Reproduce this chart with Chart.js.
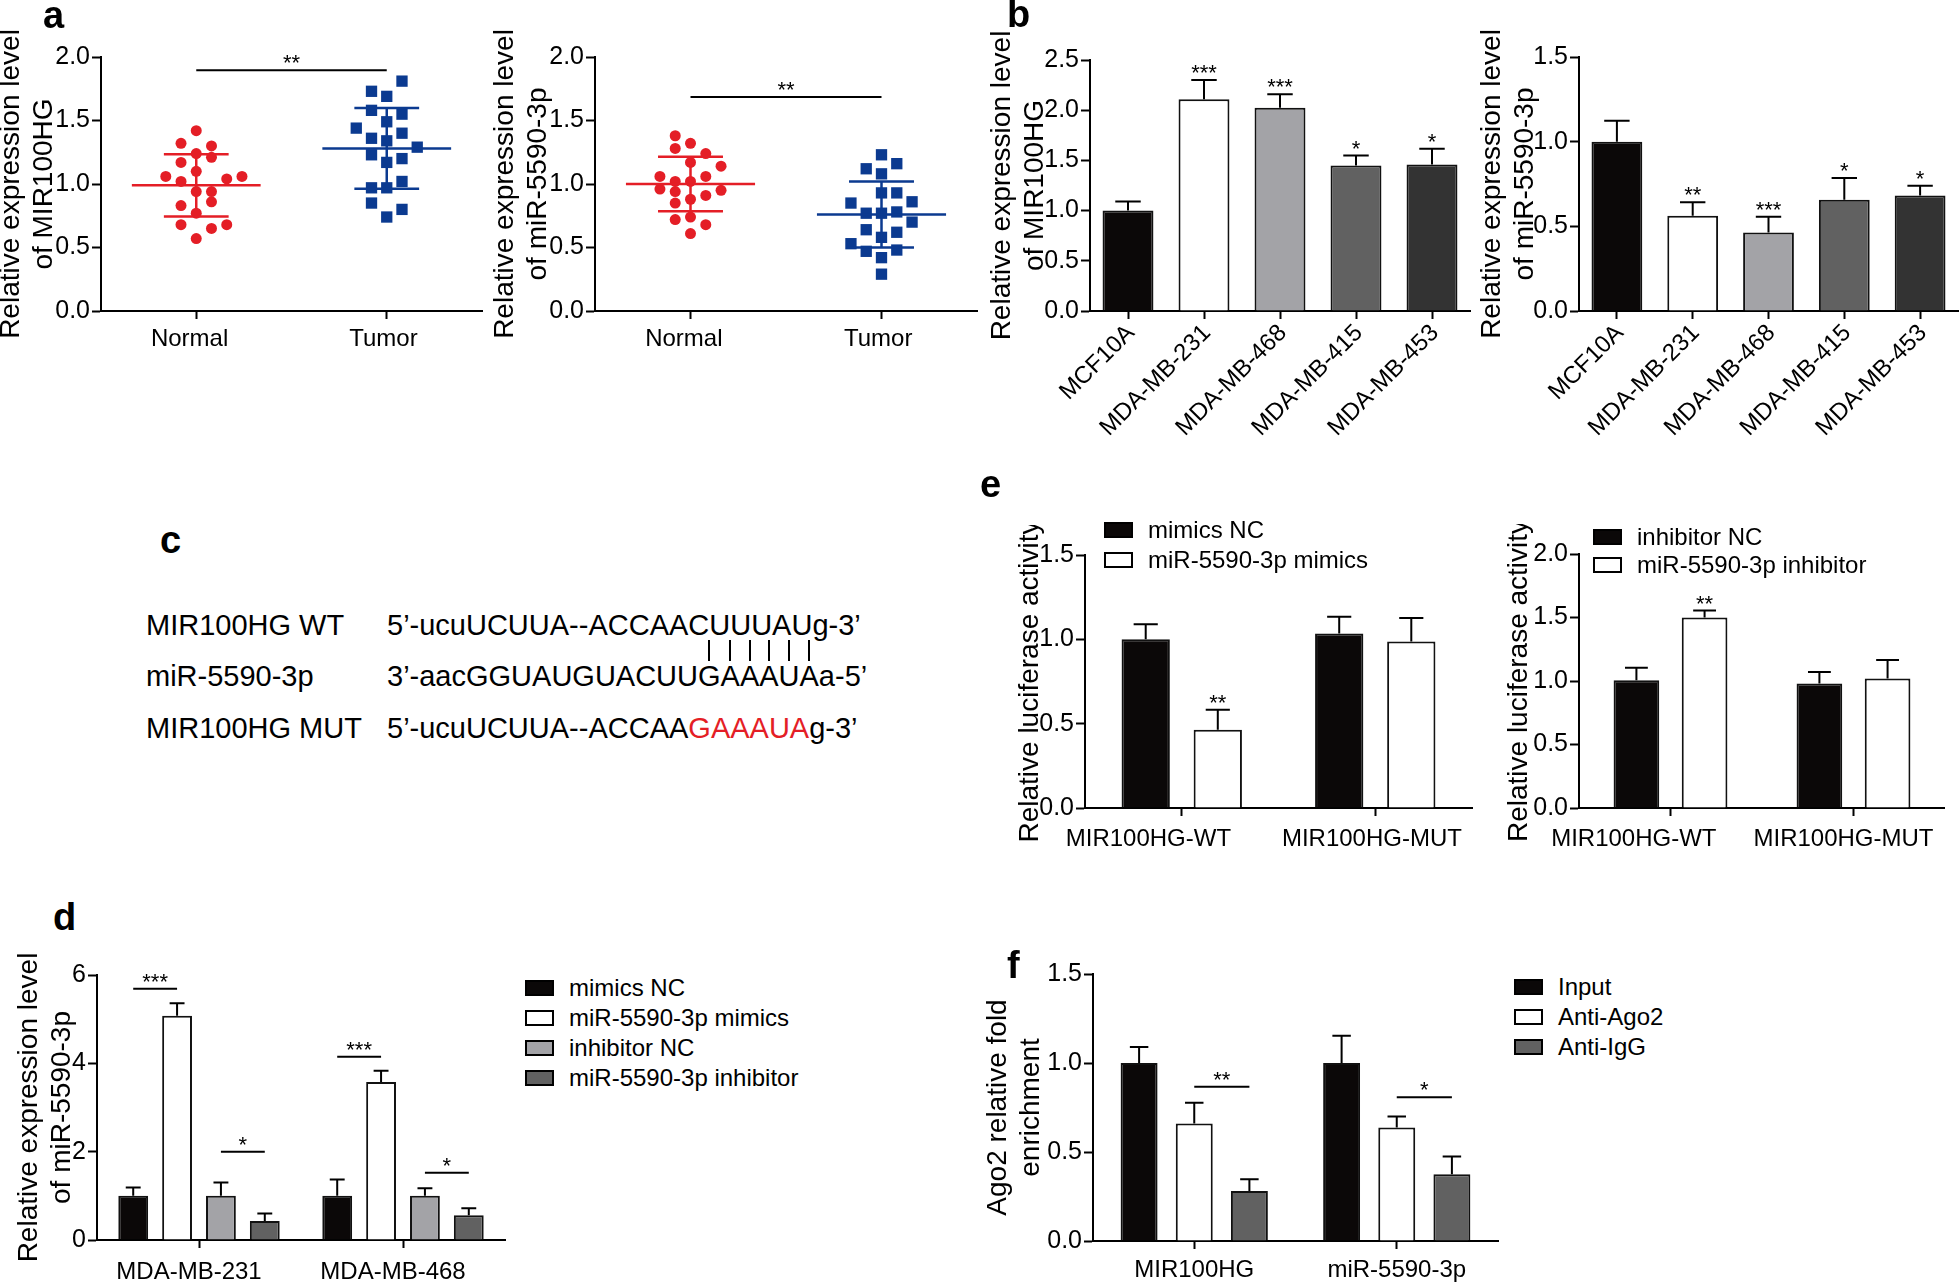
<!DOCTYPE html>
<html>
<head>
<meta charset="utf-8">
<script src="https://cdn.jsdelivr.net/npm/chart.js@4.4.1/dist/chart.umd.min.js"></script>
<style>
  body { margin: 0; background: #fff; }
  #fig { position: relative; width: 1959px; height: 1286px; overflow: hidden;
         font-family: 'Liberation Sans', Arial, sans-serif; color: #000; background: #fff; }
  #fig canvas { position: absolute; }
  .lab { position: absolute; font-weight: bold; font-size: 38px; line-height: 38px; }
  .leg { position: absolute; height: 30px; display: flex; align-items: center;
         font-size: 24px; white-space: nowrap; }
  .sw { display: inline-block; width: 29px; height: 16px; border: 2px solid #000;
        box-sizing: border-box; margin-right: 15px; }
  .seq { position: absolute; font-size: 29px; line-height: 29px; white-space: nowrap; }
  .seq .red { color: #e41e26; }
  .pipes { color: transparent; }
  .pipes span { position: relative; }
  .pipes i { position: absolute; left: 50%; top: 5px; width: 2px; height: 21px;
             margin-left: -1px; background: #000; }
</style>
</head>
<body>
<div id="fig"></div>
<script>
// ---------- data ----------
const groupsA = ['Normal', 'Tumor'];

// a, left: MIR100HG
const a1Normal = [1.42, 1.32, 1.30, 1.24, 1.21, 1.17, 1.10, 1.06, 1.06, 1.04, 1.02, 0.94, 0.94, 0.86, 0.83, 0.77, 0.68, 0.68, 0.65, 0.57];
const a1NormalCol = [0, -1, 1, 0, 1, -1, 0, -2, 3, 2, -1, 0, 1, 1, -1, 0, -1, 2, 1, 0];
const a1Tumor = [1.81, 1.73, 1.69, 1.58, 1.55, 1.49, 1.44, 1.40, 1.36, 1.34, 1.29, 1.23, 1.20, 1.17, 1.02, 0.97, 0.97, 0.85, 0.80, 0.74];
const a1TumorCol = [1, -1, 0, -1, 1, 0, -2, 1, -1, 0, 2, -1, 1, 0, 1, -1, 0, -1, 1, 0];
const a1Mean = [0.99, 1.28];
const a1Sd = [0.245, 0.318];
const a1SigY = 1.895;

// a, right: miR-5590-3p
const a2Normal = [1.38, 1.32, 1.28, 1.24, 1.17, 1.14, 1.06, 1.06, 1.02, 1.02, 0.96, 0.94, 0.95, 0.91, 0.88, 0.85, 0.74, 0.72, 0.68, 0.61];
const a2NormalCol = [-1, 0, -1, 1, 0, 2, -2, 1, -1, 0, -2, -1, 2, 1, 0, -1, 0, -1, 1, 0];
const a2Tumor = [1.23, 1.16, 1.12, 1.08, 0.93, 0.93, 0.86, 0.85, 0.77, 0.77, 0.78, 0.70, 0.64, 0.62, 0.58, 0.53, 0.47, 0.48, 0.42, 0.29];
const a2TumorCol = [0, 1, -1, 0, 0, 1, 2, -2, -1, 0, 1, 2, -1, 1, 0, -2, -1, 1, 0, 0];
const a2Mean = [1.00, 0.76];
const a2Sd = [0.215, 0.26];
const a2SigY = 1.685;

// b
const cellLines = ['MCF10A', 'MDA-MB-231', 'MDA-MB-468', 'MDA-MB-415', 'MDA-MB-453'];
const b1Values = [1.00, 2.11, 2.025, 1.448, 1.46];
const b1Err = [0.09, 0.19, 0.135, 0.10, 0.155];
const b1Stars = ['', '***', '***', '*', '*'];
const b2Values = [1.00, 0.562, 0.463, 0.657, 0.682];
const b2Err = [0.124, 0.08, 0.093, 0.128, 0.058];
const b2Stars = ['', '**', '***', '*', '*'];

// e
const constructs = ['MIR100HG-WT', 'MIR100HG-MUT'];
const e1Series = ['mimics NC', 'miR-5590-3p mimics'];
const e1NC = [1.00, 1.034];
const e1NCErr = [0.089, 0.10];
const e1Mimics = [0.464, 0.987];
const e1MimicsErr = [0.118, 0.14];
const e1Stars = ['**', ''];
const e2Series = ['inhibitor NC', 'miR-5590-3p inhibitor'];
const e2NC = [1.005, 0.98];
const e2NCErr = [0.10, 0.09];
const e2Inhibitor = [1.50, 1.02];
const e2InhibitorErr = [0.055, 0.146];
const e2Stars = ['**', ''];

// d
const dCells = ['MDA-MB-231', 'MDA-MB-468'];
const dSeries = ['mimics NC', 'miR-5590-3p mimics', 'inhibitor NC', 'miR-5590-3p inhibitor'];
const dMimicsNC = [1.00, 1.00];
const dMimicsNCErr = [0.19, 0.37];
const dMimics = [5.08, 3.58];
const dMimicsErr = [0.28, 0.25];
const dInhNC = [1.00, 1.00];
const dInhNCErr = [0.30, 0.17];
const dInh = [0.43, 0.56];
const dInhErr = [0.17, 0.16];
const dMimicsSigY = [5.69, 4.15];
const dInhSigY = [2.0, 1.52];
const dMimicsSig = ['***', '***'];
const dInhSig = ['*', '*'];

// f
const fTargets = ['MIR100HG', 'miR-5590-3p'];
const fSeries = ['Input', 'Anti-Ago2', 'Anti-IgG'];
const fInput = [1.00, 1.00];
const fInputErr = [0.09, 0.153];
const fAgo2 = [0.66, 0.638];
const fAgo2Err = [0.116, 0.062];
const fIgG = [0.281, 0.375];
const fIgGErr = [0.066, 0.10];
const fSigY = [0.866, 0.808];
const fSig = ['**', '*'];

// ---------- look ----------
const FONT = "'Liberation Sans', Arial, sans-serif";
const RED = '#e41e26';
const BLUE = '#0b3a90';
const BLACK = '#0b0808';
const WHITE = '#ffffff';
const LGRAY = '#a3a3a7';
const MGRAY = '#616161';
const DGRAY = '#333333';
const cellColors = [BLACK, WHITE, LGRAY, MGRAY, DGRAY];
const dColors = [BLACK, WHITE, LGRAY, MGRAY];
const fColors = [BLACK, WHITE, MGRAY];
const JITTER = 0.08;
const SPACE_W = 6.67;   // width of a space at 24px

const PAD_TOP = 30, PAD_RIGHT = 10;
// chart area edges, y-axis width, x-axis height, label padding, label shifts (px)
const frames = {
  a1: { l: 101, t: 57, r: 482, b: 311, yw: 106, xh: 70, xp: 6, shift: [-6, -2] },
  a2: { l: 595, t: 57, r: 977, b: 311, yw: 106, xh: 70, xp: 6, shift: [-6, -2] },
  b1: { l: 1090, t: 60, r: 1470, b: 311, yw: 104, xh: 160, xp: 0, lo: 3 },
  b2: { l: 1579, t: 57, r: 1958, b: 311, yw: 103, xh: 160, xp: 0, lo: 3 },
  e1: { l: 1085, t: 555, r: 1472, b: 808, yw: 71, xh: 60, xp: 9, shift: [-33, -5] },
  e2: { l: 1579, t: 554, r: 1955, b: 808, yw: 76, xh: 60, xp: 9, shift: [-38, -10] },
  d:  { l: 97, t: 975, r: 505, b: 1240, yw: 84, xh: 60, xp: 10, shift: [-10, -10] },
  f:  { l: 1093, t: 974, r: 1498, b: 1241, yw: 111, xh: 55, xp: 7, shift: [0, 0] }
};

Chart.defaults.font.family = FONT;
Chart.defaults.color = '#000';

const fig = document.getElementById('fig');

function shiftLabel(s, px) {
  if (!px) return s;
  const pad = ' '.repeat(Math.round(2 * Math.abs(px) / SPACE_W));
  return px < 0 ? s + pad : pad + s;
}

// error bars, upper half only
const errorBars = {
  id: 'errorBars',
  afterDatasetsDraw(chart) {
    const ctx = chart.ctx, ys = chart.scales.y;
    chart.data.datasets.forEach((ds, di) => {
      if (!ds.errors) return;
      chart.getDatasetMeta(di).data.forEach((bar, i) => {
        const top = ys.getPixelForValue(ds.data[i] + ds.errors[i]);
        const half = bar.width * 0.25;
        ctx.save();
        ctx.strokeStyle = '#000';
        ctx.lineWidth = 2;
        ctx.beginPath();
        ctx.moveTo(bar.x, bar.y);
        ctx.lineTo(bar.x, top);
        ctx.moveTo(bar.x - half, top);
        ctx.lineTo(bar.x + half, top);
        ctx.stroke();
        ctx.restore();
      });
    });
  }
};

// significance stars (and bracket lines)
const sigMarks = {
  id: 'sigMarks',
  afterDatasetsDraw(chart) {
    const marks = chart.data.sig;
    if (!marks) return;
    const ctx = chart.ctx, ys = chart.scales.y, xs = chart.scales.x;
    const barX = (p) => chart.getDatasetMeta(p[0]).data[p[1]].x;
    marks.forEach(m => {
      if (!m.text) return;
      const y = ys.getPixelForValue(m.y);
      let x1, x2;
      if (m.bars) { x1 = barX(m.bars[0]); x2 = barX(m.bars[1]); }
      else if (m.bar) { x1 = x2 = barX(m.bar); }
      else { x1 = xs.getPixelForValue(m.x1); x2 = xs.getPixelForValue(m.x2); }
      ctx.save();
      if (m.line) {
        ctx.strokeStyle = '#000';
        ctx.lineWidth = 2;
        ctx.beginPath();
        ctx.moveTo(x1, y);
        ctx.lineTo(x2, y);
        ctx.stroke();
      }
      ctx.fillStyle = '#000';
      ctx.font = '22px ' + FONT;
      ctx.textAlign = 'center';
      ctx.textBaseline = 'alphabetic';
      ctx.fillText(m.text, (x1 + x2) / 2, y);
      ctx.restore();
    });
  }
};

// mean +/- SD lines of the dot plots
const meanSd = {
  id: 'meanSd',
  afterDatasetsDraw(chart) {
    const ctx = chart.ctx, xs = chart.scales.x, ys = chart.scales.y;
    chart.data.datasets.forEach(ds => {
      if (ds.mean === undefined) return;
      const c = ds.center, m = ds.mean, s = ds.sd;
      ctx.save();
      ctx.strokeStyle = ds.backgroundColor;
      ctx.lineWidth = 2.5;
      ctx.beginPath();
      ctx.moveTo(xs.getPixelForValue(c - 0.338), ys.getPixelForValue(m));
      ctx.lineTo(xs.getPixelForValue(c + 0.338), ys.getPixelForValue(m));
      [m + s, m - s].forEach(v => {
        ctx.moveTo(xs.getPixelForValue(c - 0.17), ys.getPixelForValue(v));
        ctx.lineTo(xs.getPixelForValue(c + 0.17), ys.getPixelForValue(v));
      });
      ctx.moveTo(xs.getPixelForValue(c), ys.getPixelForValue(m - s));
      ctx.lineTo(xs.getPixelForValue(c), ys.getPixelForValue(m + s));
      ctx.stroke();
      ctx.restore();
    });
  }
};

Chart.register(errorBars, sigMarks, meanSd);

function makeCanvas(f) {
  const c = document.createElement('canvas');
  const left = f.l - f.yw, top = f.t - PAD_TOP;
  const w = f.r - left + PAD_RIGHT, h = f.b - top + f.xh;
  c.width = w; c.height = h;
  c.style.left = left + 'px';
  c.style.top = top + 'px';
  c.style.width = w + 'px';
  c.style.height = h + 'px';
  fig.appendChild(c);
  return c;
}

function yScale(f, max, step, dec, title) {
  return {
    min: 0, max: max,
    border: { color: '#000', width: 2 },
    grid: { drawOnChartArea: false, tickLength: 9, tickWidth: 2, tickColor: '#000' },
    ticks: { stepSize: step, padding: 2, color: '#000', font: { size: 25 },
             callback: v => Number(v).toFixed(dec) },
    title: { display: true, text: title, color: '#000',
             font: { size: 28, lineHeight: 1.18 }, padding: 0 },
    afterFit: s => { s.width = f.yw; }
  };
}

function xCat(f, rotate) {
  return {
    type: 'category', offset: true,
    border: { color: '#000', width: 2 },
    grid: { offset: false, drawOnChartArea: false, tickLength: 8, tickWidth: 2, tickColor: '#000' },
    ticks: { color: '#000', font: { size: 24 }, padding: f.xp, autoSkip: false,
             labelOffset: f.lo || 0,
             maxRotation: rotate ? 45 : 0, minRotation: rotate ? 45 : 0,
             callback: function (v, i) {
               return shiftLabel(this.getLabelForValue(v), f.shift ? f.shift[i] : 0);
             } },
    afterFit: s => { s.height = f.xh; }
  };
}

function baseOptions(scales) {
  return {
    responsive: false,
    animation: false,
    layout: { padding: { top: PAD_TOP, right: PAD_RIGHT, left: 0, bottom: 0 } },
    plugins: { legend: { display: false }, tooltip: { enabled: false } },
    scales: scales
  };
}

function dots(values, cols, center) {
  return values.map((v, i) => ({ x: center + cols[i] * JITTER, y: v }));
}

function dotPlot(f, normal, normalCol, tumor, tumorCol, mean, sd, sigY, title) {
  new Chart(makeCanvas(f), {
    type: 'scatter',
    data: {
      datasets: [
        { data: dots(normal, normalCol, 0), pointStyle: 'circle', pointRadius: 5.5,
          backgroundColor: RED, borderWidth: 0, center: 0, mean: mean[0], sd: sd[0] },
        { data: dots(tumor, tumorCol, 1), pointStyle: 'rect', pointRadius: 8,
          backgroundColor: BLUE, borderWidth: 0, center: 1, mean: mean[1], sd: sd[1] }
      ],
      sig: [{ x1: 0, x2: 1, y: sigY, text: '**', line: true }]
    },
    options: baseOptions({
      x: {
        type: 'linear', min: -0.5, max: 1.5,
        border: { color: '#000', width: 2 },
        grid: { drawOnChartArea: false, tickLength: 8, tickWidth: 2, tickColor: '#000' },
        afterBuildTicks: s => { s.ticks = groupsA.map((g, i) => ({ value: i })); },
        ticks: { color: '#000', font: { size: 24 }, padding: f.xp, autoSkip: false, maxRotation: 0,
                 callback: v => shiftLabel(groupsA[v], f.shift[v]) },
        afterFit: s => { s.height = f.xh; }
      },
      y: yScale(f, 2.0, 0.5, 1, title)
    })
  });
}

function cellBars(f, values, errs, stars, max, title) {
  new Chart(makeCanvas(f), {
    type: 'bar',
    data: {
      labels: cellLines,
      datasets: [{ data: values, errors: errs, backgroundColor: cellColors,
                   borderColor: '#111', borderWidth: 2, barPercentage: 0.67, categoryPercentage: 1 }],
      sig: stars.map((s, i) => ({ bar: [0, i], y: values[i] + errs[i], text: s }))
    },
    options: baseOptions({ x: xCat(f, true), y: yScale(f, max, 0.5, 1, title) })
  });
}

function groupBars(f, labels, series, colors, values, errs, barPct, catPct, max, step, dec, title, sig) {
  new Chart(makeCanvas(f), {
    type: 'bar',
    data: {
      labels: labels,
      datasets: series.map((name, k) => ({
        label: name, data: values[k], errors: errs[k], backgroundColor: colors[k],
        borderColor: '#111', borderWidth: 2, barPercentage: barPct, categoryPercentage: catPct
      })),
      sig: sig
    },
    options: baseOptions({ x: xCat(f, false), y: yScale(f, max, step, dec, title) })
  });
}

function legend(x, y0, dy, names, colors) {
  names.forEach((n, i) => {
    const row = document.createElement('div');
    row.className = 'leg';
    row.style.left = x + 'px';
    row.style.top = (y0 + i * dy - 15) + 'px';
    const sw = document.createElement('span');
    sw.className = 'sw';
    sw.style.background = colors[i];
    const t = document.createElement('span');
    t.textContent = n;
    row.appendChild(sw);
    row.appendChild(t);
    fig.appendChild(row);
  });
}

function letter(ch, x, baseline) {
  const d = document.createElement('div');
  d.className = 'lab';
  d.textContent = ch;
  d.style.left = x + 'px';
  d.style.top = (baseline - 32) + 'px';
  fig.appendChild(d);
}

function seqLine(html, x, capMid, cls) {
  const d = document.createElement('div');
  d.className = 'seq' + (cls ? ' ' + cls : '');
  d.innerHTML = html;
  d.style.left = x + 'px';
  d.style.top = (capMid - 14) + 'px';
  fig.appendChild(d);
}

// ---------- a ----------
dotPlot(frames.a1, a1Normal, a1NormalCol, a1Tumor, a1TumorCol, a1Mean, a1Sd, a1SigY,
        ['Relative expression level', 'of MIR100HG']);
dotPlot(frames.a2, a2Normal, a2NormalCol, a2Tumor, a2TumorCol, a2Mean, a2Sd, a2SigY,
        ['Relative expression level', 'of miR-5590-3p']);

// ---------- b ----------
cellBars(frames.b1, b1Values, b1Err, b1Stars, 2.5, ['Relative expression level', 'of MIR100HG']);
cellBars(frames.b2, b2Values, b2Err, b2Stars, 1.5, ['Relative expression level', 'of miR-5590-3p']);

// ---------- e ----------
groupBars(frames.e1, constructs, e1Series, [BLACK, WHITE], [e1NC, e1Mimics], [e1NCErr, e1MimicsErr],
          0.67, 0.745, 1.5, 0.5, 1, 'Relative luciferase activity',
          e1Stars.map((s, i) => ({ bar: [1, i], y: e1Mimics[i] + e1MimicsErr[i], text: s })));
groupBars(frames.e2, constructs, e2Series, [BLACK, WHITE], [e2NC, e2Inhibitor], [e2NCErr, e2InhibitorErr],
          0.67, 0.745, 2.0, 0.5, 1, 'Relative luciferase activity',
          e2Stars.map((s, i) => ({ bar: [1, i], y: e2Inhibitor[i] + e2InhibitorErr[i], text: s })));
legend(1104, 530, 30, e1Series, [BLACK, WHITE]);
legend(1593, 537, 28, e2Series, [BLACK, WHITE]);

// ---------- d ----------
groupBars(frames.d, dCells, dSeries, dColors, [dMimicsNC, dMimics, dInhNC, dInh],
          [dMimicsNCErr, dMimicsErr, dInhNCErr, dInhErr], 0.68, 0.86, 6, 2, 0,
          ['Relative expression level', 'of miR-5590-3p'],
          dCells.flatMap((c, i) => [
            { bars: [[0, i], [1, i]], y: dMimicsSigY[i], text: dMimicsSig[i], line: true },
            { bars: [[2, i], [3, i]], y: dInhSigY[i], text: dInhSig[i], line: true }
          ]));
legend(525, 988, 30, dSeries, dColors);

// ---------- f ----------
groupBars(frames.f, fTargets, fSeries, fColors, [fInput, fAgo2, fIgG], [fInputErr, fAgo2Err, fIgGErr],
          0.67, 0.817, 1.5, 0.5, 1, ['Ago2 relative fold', 'enrichment'],
          fTargets.map((t, i) => ({ bars: [[1, i], [2, i]], y: fSigY[i], text: fSig[i], line: true })));
legend(1514, 987, 30, fSeries, fColors);

// ---------- c ----------
seqLine('MIR100HG WT', 146, 625);
seqLine('5’-ucuUCUUA--ACCAACUUUAUg-3’', 387, 625);
seqLine('3’-aacGGUAUGUACUU' + 'GAAAUA'.split('').map(ch => '<span>' + ch + '<i></i></span>').join('') + 'a-5’',
        387, 651, 'pipes');
seqLine('miR-5590-3p', 146, 676);
seqLine('3’-aacGGUAUGUACUUGAAAUAa-5’', 387, 676);
seqLine('MIR100HG MUT', 146, 728);
seqLine('5’-ucuUCUUA--ACCAA<span class="red">GAAAUA</span>g-3’', 387, 728);

// ---------- panel letters ----------
letter('a', 43, 28);
letter('b', 1007, 27);
letter('c', 160, 553);
letter('d', 53, 930);
letter('e', 980, 497);
letter('f', 1007, 978);
</script>
</body>
</html>
